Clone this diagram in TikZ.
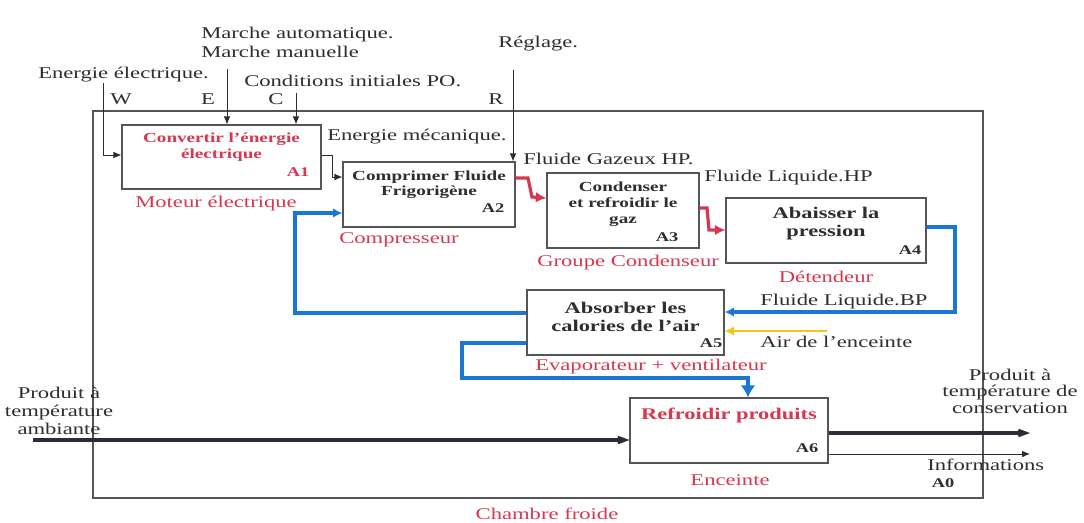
\documentclass[tikz,border=0pt]{standalone}
\usepackage{fontspec}
\setmainfont{Liberation Serif}[FakeStretch=1.38]
\usetikzlibrary{arrows.meta}
\definecolor{cfText}{HTML}{2E2E2E}
\definecolor{cfGray}{HTML}{555555}
\definecolor{cfRed}{HTML}{D63852}
\definecolor{cfBlue}{HTML}{1A78D2}
\definecolor{cfYellow}{HTML}{F5C518}
\definecolor{cfDark}{HTML}{2C2C36}

\begin{document}
\begin{tikzpicture}[x=0.75pt,y=-0.75pt,
  every node/.style={text=cfText},
  txt/.style={font=\fontsize{12.3}{14.3}\selectfont,inner sep=0pt,align=left},
  redtxt/.style={txt,text=cfRed},
  box/.style={draw=cfGray,line width=0.8pt,inner sep=0pt},
  boxtitle/.style={font=\bfseries\fontsize{10.4}{12.2}\selectfont,align=center,inner sep=0pt},
  bigtitle/.style={boxtitle,font=\bfseries\fontsize{12.2}{13.5}\selectfont},
  idtag/.style={font=\bfseries\fontsize{10}{12}\selectfont,inner sep=0pt},
  thinarrow/.style={-{Latex[length=6pt,width=5pt]},line width=0.7pt,draw=cfDark},
  redarrow/.style={-{Latex[length=8pt,width=8pt]},line width=2.4pt,draw=cfRed},
  bluearrow/.style={-{Latex[length=7pt,width=7pt]},line width=2.3pt,draw=cfBlue},
  flowarrow/.style={-{Stealth[length=16pt,width=12pt,inset=10pt]},line width=2.5pt,draw=cfDark}
]
\fill[white] (0,0) rectangle (1084,522);
\useasboundingbox (0,0) rectangle (1084,522);

\node[box,minimum width=667.5pt,minimum height=290.25pt] (a0) at (538,304.5) {};
\node[box,minimum width=149.25pt,minimum height=48pt] (a1) at (221.5,157) {};
\node[box,minimum width=129pt,minimum height=48.75pt] (a2) at (429,194.5) {};
\node[box,minimum width=114pt,minimum height=56.25pt] (a3) at (623,210.5) {};
\node[box,minimum width=150pt,minimum height=48.75pt] (a4) at (826,230.5) {};
\node[box,minimum width=147.75pt,minimum height=48.75pt] (a5) at (625.5,322.5) {};
\node[box,minimum width=148.5pt,minimum height=48.75pt] (a6) at (729,430.5) {};

\node[boxtitle,text=cfRed] (t1) at (221.5,147.5) {Convertir l’énergie\\électrique};
\node[boxtitle,font=\bfseries\fontsize{10.4}{11.3}\selectfont] (t2) at (429,184.5) {Comprimer Fluide\\Frigorigène};
\node[boxtitle] (t3) at (623,204) {Condenser\\et refroidir le\\gaz};
\node[bigtitle] (t4) at (826,224) {Abaisser la\\pression};
\node[bigtitle] (t5) at (625.5,317) {Absorber les\\calories de l’air};
\node[bigtitle,text=cfRed] (t6) at (729,415) {Refroidir produits};

\node[idtag,text=cfRed] (tag1) at (298,172) {A1};
\node[idtag] (tag2) at (493,208) {A2};
\node[idtag] (tag3) at (667,237) {A3};
\node[idtag] (tag4) at (910,250) {A4};
\node[idtag] (tag5) at (711,343) {A5};
\node[idtag] (tag6) at (807,448) {A6};
\node[idtag] (tag0) at (943,483) {A0};

\node[txt,anchor=west] (marche) at (201,42.5) {Marche automatique.\\Marche manuelle};
\node[txt,anchor=west] (elec) at (38,75) {Energie électrique.};
\node[txt,anchor=west] (cond) at (244,81) {Conditions initiales PO.};
\node[txt,anchor=west] (regl) at (498,44) {Réglage.};
\node[txt] (lw) at (121,99) {W};
\node[txt] (le) at (208,99) {E};
\node[txt] (lc) at (276,99) {C};
\node[txt] (lr) at (496,99) {R};
\node[txt,anchor=west] (meca) at (327,137) {Energie mécanique.};
\node[txt,anchor=west] (gaz) at (523,159) {Fluide Gazeux HP.};
\node[txt,anchor=west] (liqhp) at (704,178) {Fluide Liquide.HP};
\node[txt,anchor=west] (liqbp) at (760,302) {Fluide Liquide.BP};
\node[txt,anchor=west] (air) at (760,342) {Air de l’enceinte};
\node[txt,align=center,font=\fontsize{12.3}{13.5}\selectfont] (pin) at (59,411) {Produit à\\température\\ambiante};
\node[txt,align=center,font=\fontsize{12.3}{12.3}\selectfont] (pout) at (1010,391) {Produit à\\température de\\conservation};
\node[txt,anchor=west] (info) at (927,465) {Informations};

\node[redtxt,anchor=west] (moteur) at (135,204) {Moteur électrique};
\node[redtxt,anchor=west] (compr) at (339,240) {Compresseur};
\node[redtxt,anchor=west] (groupe) at (537,263) {Groupe Condenseur};
\node[redtxt] (deten) at (826,277) {Détendeur};
\node[redtxt,anchor=west] (evap) at (535,367) {Evaporateur + ventilateur};
\node[redtxt] (enc) at (730,480) {Enceinte};
\node[redtxt] (chambre) at (547,514) {Chambre froide};

\coordinate (wtop) at (103,83);
\coordinate (etop) at (227,69);
\coordinate (ctop) at (296,93);
\coordinate (rtop) at (513,70);
\coordinate (pinstart) at (33,440);
\coordinate (poutend) at (1030,433);
\coordinate (infoend) at (1030,454);
\coordinate (airstart) at (827,331);

\draw[thinarrow] (wtop) |- (a1.west |- 0,155);
\draw[thinarrow] (etop) -- (etop |- a1.north);
\draw[thinarrow] (ctop) -- (ctop |- a1.north);
\draw[thinarrow] (rtop) -- (rtop |- a2.north);
\draw[thinarrow] (a1.east |- 0,155) -| (332,177) -- (a2.west |- 0,177);

\draw[redarrow] (a2.east |- 0,178) -- (528,178) -- (532,197) -- (a3.west |- 0,198);
\draw[redarrow] (a3.east |- 0,208) -- (707,208) -- (709,230) -- (a4.west |- 0,230);

\draw[bluearrow] (a4.east |- 0,227) -- (955,227) -- (955,312) -- (a5.east |- 0,312);
\draw[bluearrow] (a5.west |- 0,313) -| (295,213) -- (a2.west |- 0,213);
\draw[bluearrow,-{Latex[length=9pt,width=11pt]}] (a5.west |- 0,343) -| (462,378) -| (748,0 |- a6.north);
\draw[-{Latex[length=7pt,width=7pt]},line width=2pt,draw=cfYellow] (airstart) -- (a5.east |- airstart);

\draw[flowarrow] (pinstart) -- (a6.west |- pinstart);
\draw[flowarrow] (a6.east |- poutend) -- (poutend);
\draw[thinarrow] (a6.east |- infoend) -- (infoend);
\end{tikzpicture}
\end{document}
